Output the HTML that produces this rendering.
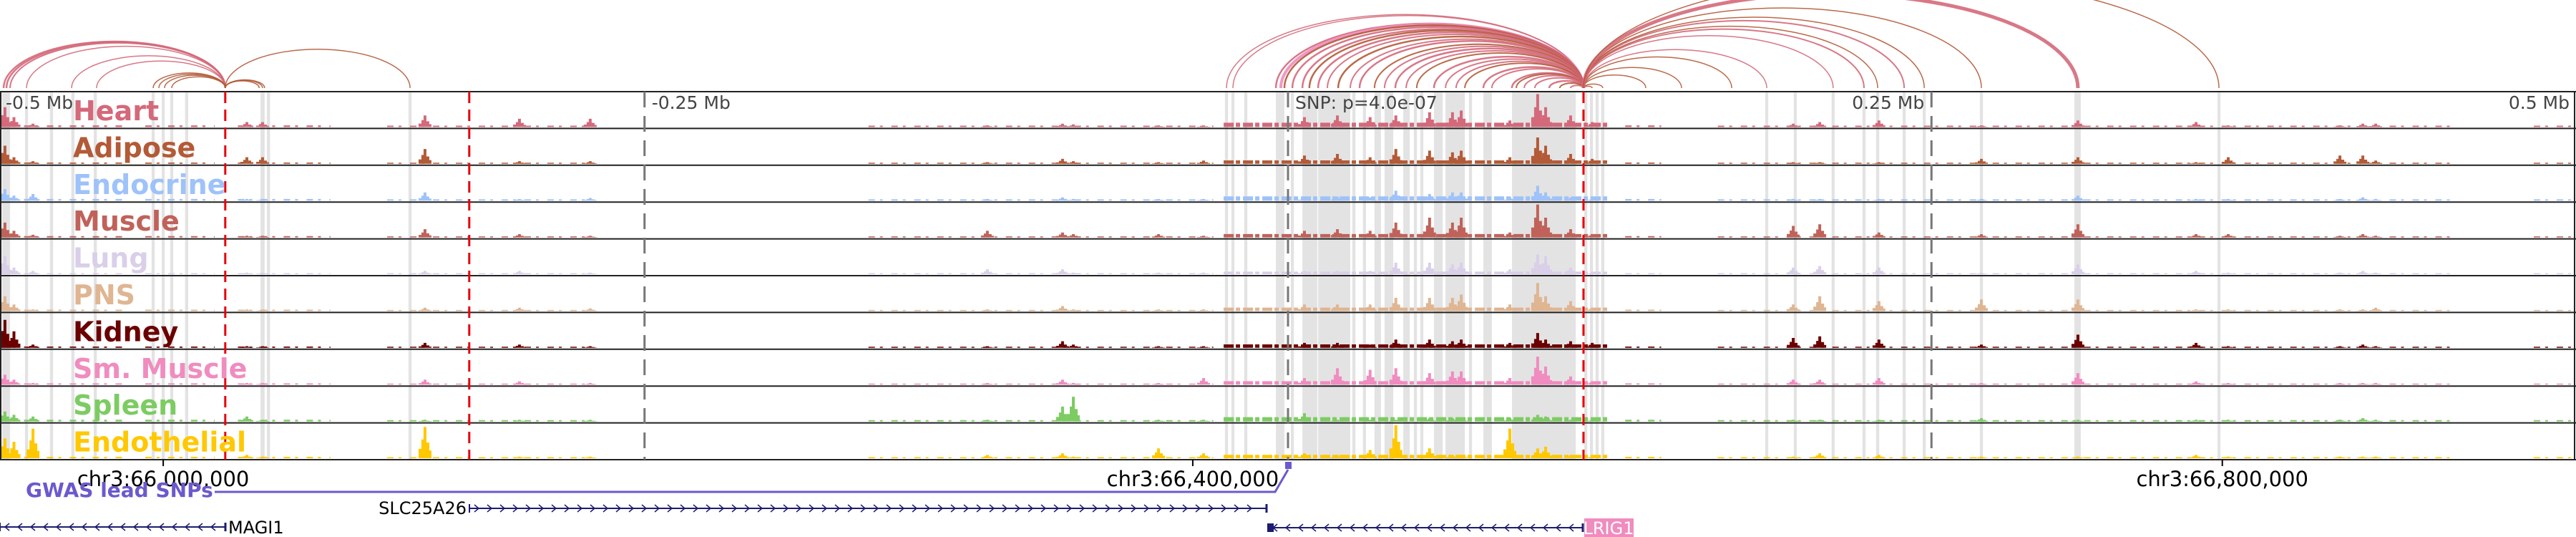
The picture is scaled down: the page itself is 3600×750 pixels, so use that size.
<!DOCTYPE html>
<html><head><meta charset="utf-8"><style>
html,body{margin:0;padding:0;background:#fff;}
svg{display:block;}
text{font-family:"DejaVu Sans","Liberation Sans",sans-serif;}
</style></head><body>
<svg id="chart" width="3600" height="750" viewBox="0 0 3600 750" xmlns="http://www.w3.org/2000/svg">
<g id="bands"></g>
<g id="signals"></g>
<g id="grid"></g>
<g id="arcs"></g>
<g id="labels"></g>
<g id="bottom"></g>
</svg>
<script>
// ---- data ----
const trackNames = ["Heart","Adipose","Endocrine","Muscle","Lung","PNS","Kidney","Sm. Muscle","Spleen","Endothelial"];
const trackColors = ["#d4697a","#b35a37","#9ec2fa","#c0625a","#d9cfe9","#dfb592","#6b0000","#f08cbf","#7ccc62","#ffc800"];
const snpPos = 66437000;
const axisTicks = [66000000,66400000,66800000];
const axisTickLabels = ["chr3:66,000,000","chr3:66,400,000","chr3:66,800,000"];
const mbTicks = [-500,-250,0,250,500];
const mbLabels = ["-0.5 Mb","-0.25 Mb","SNP: p=4.0e-07","0.25 Mb","0.5 Mb"];
const redLinesKb = [-412.9,-318.1,114.8];
const peakKb = [-498.5,-495,-487.6,-404.5,-398.4,-335.3,-298.6,-271.1,-116.8,-87.6,-83.4,-50.3,-32.8,6.4,19.2,31.9,41.9,55.0,63.9,67.3,86.2,97.0,100.1,109.8,118.2,196.3,206.6,229.6,269.4,306.9,352.8,365.3,408.7,417.6,422.6];
const heartVals = [0.6,0.3,0.1,0.15,0.15,0.35,0.25,0.25,0.05,0.1,0.08,0.05,0.05,0.3,0.35,0.3,0.35,0.45,0.45,0.5,0.2,1.0,0.6,0.35,0.15,0.1,0.15,0.2,0.05,0.2,0.15,0.05,0.05,0.1,0.1];
const adiposeVals = [0.55,0.2,0.08,0.2,0.2,0.45,0.08,0.08,0.05,0.15,0.08,0.05,0.1,0.25,0.3,0.2,0.45,0.4,0.35,0.4,0.2,0.8,0.55,0.3,0.15,0.05,0.05,0.05,0.15,0.2,0.05,0.2,0.25,0.25,0.1];
const endocrineVals = [0.35,0.15,0.2,0.05,0.05,0.25,0.05,0.08,0.05,0.1,0.05,0.05,0.05,0.1,0.12,0.1,0.3,0.2,0.25,0.25,0.1,0.45,0.25,0.1,0.05,0.05,0.05,0.05,0.05,0.15,0.05,0.05,0.05,0.1,0.05];
const muscleVals = [0.45,0.2,0.08,0.05,0.05,0.25,0.1,0.05,0.2,0.15,0.1,0.1,0.05,0.2,0.25,0.2,0.45,0.6,0.45,0.6,0.15,1.0,0.6,0.25,0.1,0.35,0.4,0.15,0.1,0.4,0.1,0.1,0.05,0.1,0.05];
const lungVals = [0.55,0.2,0.1,0.05,0.05,0.1,0.1,0.05,0.15,0.15,0.05,0.05,0.05,0.1,0.1,0.1,0.35,0.35,0.3,0.35,0.15,0.6,0.55,0.2,0.05,0.2,0.25,0.2,0.05,0.3,0.1,0.05,0.05,0.1,0.05];
const pnsVals = [0.45,0.2,0.05,0.05,0.05,0.1,0.1,0.08,0.05,0.15,0.05,0.05,0.05,0.2,0.2,0.2,0.4,0.4,0.4,0.5,0.2,0.85,0.45,0.3,0.1,0.2,0.45,0.3,0.35,0.35,0.05,0.05,0.05,0.05,0.1];
const kidneyVals = [0.85,0.5,0.1,0.05,0.05,0.15,0.1,0.05,0.05,0.2,0.1,0.05,0.05,0.15,0.15,0.1,0.25,0.25,0.2,0.25,0.15,0.45,0.25,0.2,0.15,0.3,0.35,0.25,0.1,0.4,0.15,0.05,0.05,0.1,0.05];
const smMuscleVals = [0.3,0.15,0.05,0.05,0.05,0.15,0.1,0.05,0.05,0.15,0.05,0.05,0.2,0.2,0.5,0.45,0.5,0.35,0.4,0.4,0.2,0.85,0.55,0.25,0.1,0.15,0.15,0.2,0.05,0.35,0.1,0.05,0.05,0.05,0.05];
const spleenVals = [0.3,0.2,0.15,0.15,0.05,0.05,0.05,0.05,0.05,0.45,0.75,0.05,0.05,0.25,0.05,0.05,0.05,0.1,0.1,0.1,0.1,0.2,0.15,0.05,0.05,0.05,0.05,0.05,0.1,0.05,0.05,0.05,0.05,0.1,0.05];
const endothelialVals = [0.6,0.5,0.9,0.1,0.05,0.95,0.05,0.05,0.1,0.15,0.05,0.3,0.15,0.15,0.1,0.25,1.0,0.3,0.1,0.1,0.9,0.3,0.35,0.1,0.05,0.05,0.15,0.1,0.05,0.05,0.1,0.05,0.05,0.05,0.05];
const seriesVals = [heartVals,adiposeVals,endocrineVals,muscleVals,lungVals,pnsVals,kidneyVals,smMuscleVals,spleenVals,endothelialVals];
const segStartKb = [-500,-444,-408,-350,-163,-25,131,167,428,484];
const segEndKb = [-452,-417,-372,-270,-29,124,145,417,453,500];
const segScale = [1,1,1,0.8,0.8,2.6,1,0.8,0.8,0.8];
const trackBaseline = [0.05,0.04,0.05,0.04,0.03,0.04,0.04,0.04,0.05,0.04];
const bandStartKb = [-499.6,-490.7,-481,-472.7,-464,-441.5,-437.6,-434.3,-428.5,-399.2,-396.7,-341.7,-24.5,-22,-17,-4.7,1.1,5.6,11.7,25,29.1,33.6,37.5,44.8,48.9,51.4,56.7,61.2,70.3,75.9,87.0,115.1,117.3,119.5,121.7,185.4,196.5,211.2,223.2,228.5,238.8,246.6,268.8,305.5,361.1];
const bandEndKb = [-496.5,-489.5,-479.8,-471.5,-462.8,-440.3,-436.4,-433.1,-427.3,-397.6,-395.5,-340.5,-23.3,-20.8,-15.8,-1.4,2.3,11.4,24.2,26.2,30.3,36.1,40.9,47.3,50.1,52.6,60.1,68.7,71.5,79.2,111.8,116.3,118.5,120.7,122.9,186.6,197.7,212.4,224.4,229.7,240,247.8,270,308.0,362.3];
const arcStartKb = [-499,-497.9,-496.5,-490.1,-472.6,-462.9,-440.9,-438.7,-436.5,-433.7,-412.9,-412.9,-412.9,-412.9,
 -23.9,-21.4,-4.7,-2.8,-1.4,1.7,5.6,8.3,11.7,15.3,19.5,24.2,27.8,33.6,37.5,41.7,45.9,50.0,56.7,61.2,65.3,68.7,75.9,79.2,87.0,88.7,91.8,95.9,101.5,105.6,109.8,
 114.8,114.8,114.8,114.8,114.8,114.8,114.8,114.8,114.8,114.8,114.8,114.8,114.8,114.8];
const arcEndKb = [-412.9,-412.9,-412.9,-412.9,-412.9,-412.9,-412.9,-412.9,-412.9,-412.9,-341.1,-399.7,-398.4,-397.6,
 114.8,114.8,114.8,114.8,114.8,114.8,114.8,114.8,114.8,114.8,114.8,114.8,114.8,114.8,114.8,114.8,114.8,114.8,114.8,114.8,114.8,114.8,114.8,114.8,114.8,114.8,114.8,114.8,114.8,114.8,114.8,
 118.2,122.3,139,152.9,172.4,186.0,211.8,223.8,229.1,239.4,247.2,269.4,306.9,361.7];
const arcTrack = [0,0,0,0,0,0,1,1,1,1,1,1,1,1,
 0,0,0,7,1,0,0,1,0,0,1,0,0,1,0,0,0,1,0,0,0,1,0,0,0,1,0,0,0,1,0,
 1,1,1,1,1,0,0,0,1,0,1,1,0,1];
const arcWidth = [2.5,2.5,2,1.5,1.5,1.5,1.5,1.5,1.5,1.5,1.5,1.5,1.5,1.5,
 1.5,1.5,2.5,4,2.5,2.5,2.5,2.5,2.5,2,2.5,2,2.5,2,2,2.5,2,2,2.5,2,2,2,2.5,2,2.5,2,2,2,2.5,2,2,
 1.5,1.5,1.5,1.5,1.5,1.5,1.5,2,1.5,2,1.5,1.5,5,1.5];

// ---- scales ----
const NS="http://www.w3.org/2000/svg";
const X0=1800, PXKB=3.597;
function xKb(kb){return X0+kb*PXKB;}
function xPos(bp){return xKb((bp-snpPos)/1000);}
const TOP=128, ROWH=51.4, NT=10, BOT=TOP+ROWH*NT, HMAX=46;
function rowTop(i){return TOP+i*ROWH;}
function mk(tag,attrs,parent){const e=document.createElementNS(NS,tag);for(const k in attrs)e.setAttribute(k,attrs[k]);parent.appendChild(e);return e;}
const gB=document.getElementById('bands'),gS=document.getElementById('signals'),gG=document.getElementById('grid'),gA=document.getElementById('arcs'),gL=document.getElementById('labels'),gX=document.getElementById('bottom');

// bands
for(let i=0;i<bandStartKb.length;i++){
  const x1=xKb(bandStartKb[i]),x2=xKb(bandEndKb[i]);
  const r=mk('rect',{x:x1,y:TOP,width:Math.max(3,x2-x1),height:BOT-TOP,fill:'#e3e3e3'},gB);
  
  
}
// signals
for(let t=0;t<NT;t++){
  const base=rowTop(t)+ROWH-2;
  const g=mk('g',{},gS);
  
  
  for(let s=0;s<segStartKb.length;s++){
    const h=Math.max(1.5,trackBaseline[t]*segScale[s]*HMAX);
    const x1=xKb(segStartKb[s]),x2=xKb(segEndKb[s]);
    const r=mk('line',{x1:x1,x2:x2,y1:base-h/2,y2:base-h/2,stroke:trackColors[t],'stroke-width':h,'stroke-dasharray':s===5?'14 3 6 4':'9 7 4 12'},g);
    
    
  }
  const vals=seriesVals[t];
  for(let p=0;p<peakKb.length;p++){
    const h=vals[p]*HMAX, cx=xKb(peakKb[p]);
    const pts=[[cx-9,base],[cx-9,base-h*0.3],[cx-5,base-h*0.3],[cx-5,base-h*0.6],[cx-2,base-h*0.6],[cx-2,base-h],[cx+2,base-h],[cx+2,base-h*0.5],[cx+6,base-h*0.5],[cx+6,base-h*0.25],[cx+9,base-h*0.25],[cx+9,base]];
    const pg=mk('polygon',{points:pts.map(q=>q.join(',')).join(' '),fill:trackColors[t]},g);
    
    
  }
}
// grid lines
for(let i=0;i<=NT;i++){
  const l=mk('line',{x1:0,x2:3600,y1:rowTop(i),y2:rowTop(i),stroke:'#222','stroke-width':2},gG);
  
  
}
mk('line',{x1:1,x2:1,y1:TOP,y2:BOT,stroke:'#222','stroke-width':2},gG);
mk('line',{x1:3598,x2:3598,y1:TOP,y2:BOT,stroke:'#222','stroke-width':2},gG);
for(let i=0;i<mbTicks.length;i++){
  if(mbTicks[i]===-500||mbTicks[i]===500)continue;
  const x=xKb(mbTicks[i]);
  const l=mk('line',{x1:x,x2:x,y1:TOP,y2:BOT,stroke:'#777','stroke-width':3,'stroke-dasharray':'22 12'},gG);
  
  
}
for(let i=0;i<redLinesKb.length;i++){
  const x=xKb(redLinesKb[i]);
  const l=mk('line',{x1:x,x2:x,y1:TOP,y2:BOT,stroke:'#e8000b','stroke-width':3,'stroke-dasharray':'16 9'},gG);
  
  
}
// distance labels
for(let i=0;i<mbTicks.length;i++){
  const x=xKb(mbTicks[i]);
  let anchor='start',tx=x+10;
  if(i===0)tx=8;
  if(i===3){anchor='end';tx=x-10;}
  if(i===4){anchor='end';tx=3591;}
  const t=mk('text',{x:tx,y:152,'font-size':25,fill:'#444','text-anchor':anchor},gL);
  t.textContent=mbLabels[i];
  
  
}
// arcs
const ABASE=123;
for(let i=0;i<arcStartKb.length;i++){
  const x1=xKb(arcStartKb[i]),x2=xKb(arcEndKb[i]);
  const span=Math.abs(x2-x1), rx=span/2;
  const ry=0.21*span*(1-Math.max(0,span-450)/2600);
  const p=mk('path',{d:`M${x1},${ABASE} A${rx},${ry} 0 0 1 ${x2},${ABASE}`,fill:'none',stroke:trackColors[arcTrack[i]],'stroke-width':arcWidth[i],'stroke-opacity':0.9},gA);
  
  
}
// track labels
for(let t=0;t<NT;t++){
  const tx=mk('text',{x:102,y:rowTop(t)+40,'font-size':38,'font-weight':'bold',fill:trackColors[t]},gL);
  tx.textContent=trackNames[t];
  
  
}
// axis
for(let i=0;i<axisTicks.length;i++){
  const x=xPos(axisTicks[i]);
  const l=mk('line',{x1:x,x2:x,y1:BOT,y2:BOT+9,stroke:'#000','stroke-width':2},gX);
  
  
  const t=mk('text',{x:x,y:679,'font-size':29,fill:'#000','text-anchor':'middle'},gX);
  t.textContent=axisTickLabels[i];
  
  
}
// GWAS
const gw='#6a5acd';
mk('polyline',{points:`300,687 1782,687 1800,656`,fill:'none',stroke:gw,'stroke-width':3},gX);
const snpR=mk('rect',{x:1796,y:645,width:9,height:10,fill:gw},gX);


const gwt=mk('text',{x:36,y:694,'font-size':28,'font-weight':'bold',fill:gw},gX);
gwt.textContent='GWAS lead SNPs';


// genes
const navy='#1c1c70';
function gene(x1,x2,y,dir,name){
  const g=mk('g',{},gX);
  
  
  mk('line',{x1:x1,x2:x2,y1:y,y2:y,stroke:navy,'stroke-width':2},g);
  mk('line',{x1:x1,x2:x1,y1:y-6,y2:y+6,stroke:navy,'stroke-width':2},g);
  mk('line',{x1:x2,x2:x2,y1:y-6,y2:y+6,stroke:navy,'stroke-width':3},g);
  let d='';
  for(let x=x1+10;x<x2-6;x+=18){
    if(dir>0)d+=`M${x-3},${y-5} L${x+3},${y} L${x-3},${y+5} `;
    else d+=`M${x+3},${y-5} L${x-3},${y} L${x+3},${y+5} `;
  }
  mk('path',{d:d,fill:'none',stroke:navy,'stroke-width':1.5},g);
  return g;
}
gene(656,1770,710,1,'SLC25A26');
const sl=mk('text',{x:652,y:718,'font-size':24,fill:'#000','text-anchor':'end'},gX);
sl.textContent='SLC25A26';


gene(0,315,736,-1,'MAGI1');
const mg=mk('text',{x:319,y:745,'font-size':24,fill:'#000'},gX);
mg.textContent='MAGI1';


const lg=gene(1772,2212,737,-1,'LRIG1');
mk('rect',{x:1772,y:731,width:8,height:12,fill:navy},lg);
mk('rect',{x:2214,y:724,width:69,height:26,fill:'#f08cbf'},gX);
const lt=mk('text',{x:2248,y:746,'font-size':24,fill:'#fff','text-anchor':'middle'},gX);
lt.textContent='LRIG1';


</script>
</body></html>
